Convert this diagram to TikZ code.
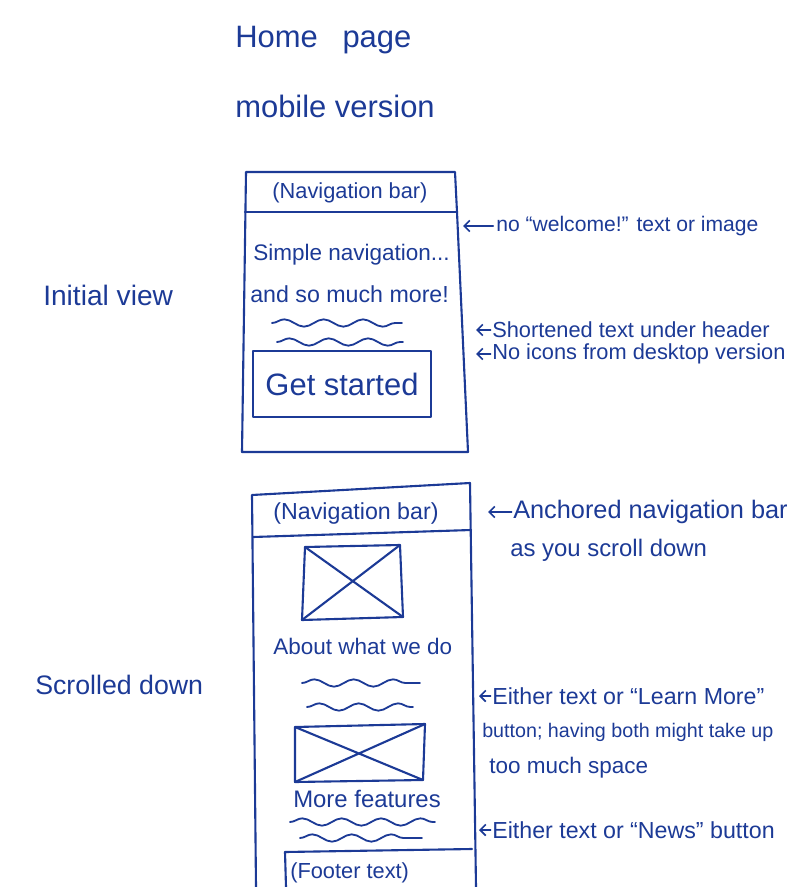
\documentclass[tikz,border=0pt]{standalone}
\usepackage{fontspec}
\setmainfont{Liberation Sans}
\usetikzlibrary{decorations.pathmorphing,arrows.meta}
\definecolor{ink}{RGB}{28,58,150}
\begin{document}
\begin{tikzpicture}[x=0.025cm,y=-0.025cm,
  pen/.style={draw=ink,line width=1.5pt,line cap=round,line join=round},
  scrawl/.style={text=ink,inner sep=0pt,font=\fontsize{#1}{#1}\selectfont},
  scrawl/.default=16pt,
  wavy/.style={pen,line width=1.3pt,decorate,decoration={snake,segment length=28pt,amplitude=2.6pt}},
  pointer/.style={pen,line width=1.2pt,-{Straight Barb[length=4pt,width=8pt]}},
  button/.style={pen,minimum width=4.47cm,minimum height=1.67cm,inner sep=0pt,text=ink,font=\fontsize{22pt}{22pt}\selectfont}
]
\useasboundingbox (0,0) rectangle (806,887);
\clip (0,0) rectangle (806,887);

% ---------- heading and side labels ----------
\node[scrawl=22pt,anchor=base west] (title) at (235,48) {Home\hspace{0.8em}page};
\node[scrawl=22pt,anchor=base west] (subtitle) at (235,117) {mobile version};
\node[scrawl=20pt,anchor=base west] (initlabel) at (43,305) {Initial view};
\node[scrawl=19pt,anchor=base west] (scrolllabel) at (35,694) {Scrolled down};

% ---------- initial view screen ----------
\draw[pen] (246,172) -- (455,172) -- (457,212) -- (468,452) -- (242,452) -- cycle;
\draw[pen] (245,212) -- (457,212);
\node[scrawl=15.5pt] (nav1) at (350,193) {(Navigation bar)};
\node[scrawl=16pt,anchor=base west] (hero1) at (253,260) {Simple navigation...};
\node[scrawl=16.5pt,anchor=base west] (hero2) at (250,302) {and so much more!};
\draw[wavy] (272,323) -- (402,323);
\draw[wavy] (277,342) -- (403,342);
\node[button] (start) at (342,384) {Get started};

% notes for the initial view
\node[scrawl=15pt,anchor=west] (n1) at (496,226) {no “welcome!” text or image};
\coordinate (t1) at (463,226);
\draw[pointer] ([xshift=-2pt]n1.west) -- (t1);
\node[scrawl=15.5pt,anchor=west] (n2) at (492,330) {Shortened text under header};
\coordinate (t2) at (476,330);
\draw[pointer] ([xshift=-1pt]n2.west) -- (t2);
\node[scrawl=15.5pt,anchor=west] (n3) at (492,354) {No icons from desktop version};
\coordinate (t3) at (476,354);
\draw[pointer] ([xshift=-1pt]n3.west) -- (t3);

% ---------- scrolled-down screen ----------
\draw[pen] (256,887) -- (252,495) -- (470,483) -- (476,887);
\draw[pen] (253,537) -- (471,530);
\node[scrawl=16.5pt] (nav2) at (356,513) {(Navigation bar)};

% picture placeholder one
\coordinate (a1) at (305,547); \coordinate (a2) at (400,545);
\coordinate (a3) at (403,617); \coordinate (a4) at (302,620);
\draw[pen] (a1) -- (a2) -- (a3) -- (a4) -- cycle;
\draw[pen] (a1) -- (a3) (a2) -- (a4);

\node[scrawl=16pt,anchor=base west] (about) at (273,654) {About what we do};
\draw[wavy] (302,683) -- (420,683);
\draw[wavy] (307,707) -- (413,707);

% picture placeholder two
\coordinate (b1) at (295,727); \coordinate (b2) at (425,724);
\coordinate (b3) at (423,780); \coordinate (b4) at (295,782);
\draw[pen] (b1) -- (b2) -- (b3) -- (b4) -- cycle;
\draw[pen] (b1) -- (b3) (b2) -- (b4);

\node[scrawl=17pt,anchor=base west] (more) at (293,807) {More features};
\draw[wavy] (290,822) -- (435,822);
\draw[wavy] (300,838) -- (422,838);

% footer
\draw[pen] (286,887) -- (285,852) -- (472,849);
\node[scrawl=15.5pt,anchor=base west] (footer) at (290,878) {(Footer text)};

% notes for the scrolled-down screen
\node[scrawl=18pt,anchor=west] (n4) at (513,512) {Anchored navigation bar};
\coordinate (t4) at (488,512);
\draw[pointer] ([xshift=-1pt]n4.west) -- (t4);
\node[scrawl=17pt,anchor=west] (n4b) at (510,550) {as you scroll down};

\node[scrawl=16.5pt,anchor=west] (n5) at (492,696) {Either text or “Learn More”};
\coordinate (t5) at (479,696);
\draw[pointer] ([xshift=-1pt]n5.west) -- (t5);
\node[scrawl=14pt,anchor=west] (n5b) at (482,732) {button; having both might take up};
\node[scrawl=16pt,anchor=west] (n5c) at (489,768) {too much space};

\node[scrawl=16.5pt,anchor=west] (n6) at (492,830) {Either text or “News” button};
\coordinate (t6) at (479,830);
\draw[pointer] ([xshift=-1pt]n6.west) -- (t6);
\end{tikzpicture}
\end{document}
